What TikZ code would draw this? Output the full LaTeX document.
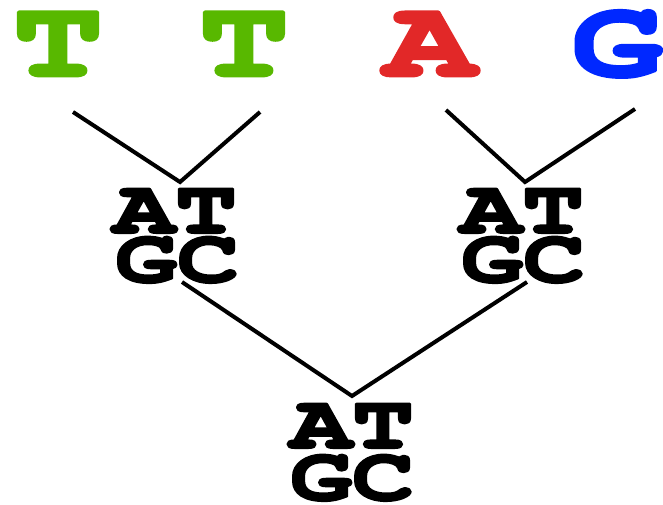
\documentclass[tikz,border=0pt]{standalone}
\usepackage{graphicx}
\usepackage{fontspec}
\newfontfamily\dnafont{texgyrecursor}[Extension=.otf, UprightFont=*-regular, BoldFont=*-bold]
% widen the glyphs and thicken them with an outline stroke
\newcommand\bigglyph[1]{\scalebox{1.38}[1]{\special{pdf:literal direct 2 Tr 2.8 w 1 j}#1\special{pdf:literal direct 0 Tr}}}
\newcommand\smallglyph[1]{\scalebox{1.36}[1]{\special{pdf:literal direct 2 Tr 2.0 w 1 j}#1\special{pdf:literal direct 0 Tr}}}
\definecolor{tgreen}{HTML}{58B800}
\definecolor{ared}{HTML}{E22828}
\definecolor{gblue}{HTML}{0028FF}
\tikzset{
  bigletter/.style={font=\dnafont\bfseries\fontsize{110}{110}\selectfont, inner sep=0pt, anchor=base, text height=65pt, text depth=1pt},
  pairtext/.style={font=\dnafont\bfseries\fontsize{76}{76}\selectfont, inner sep=0pt, anchor=base, text height=44pt, text depth=1pt},
  branch/.style={line width=4pt, line join=miter}
}
\begin{document}
\begin{tikzpicture}[x=1pt,y=-1pt]
\useasboundingbox (0,0) rectangle (663,504);
% leaves
\node[bigletter, text=tgreen] (t1) at (58,76) {\bigglyph{T}};
\node[bigletter, text=tgreen] (t2) at (244,76) {\bigglyph{T}};
\node[bigletter, text=ared] (a) at (430,76) {\bigglyph{A}};
\node[bigletter, text=gblue] (g) at (617,76) {\bigglyph{G}};
% internal nodes
\node[pairtext] (l1) at (175,233) {\smallglyph{AT}};
\node[pairtext] (l2) at (177,282) {\smallglyph{GC}};
\node[pairtext] (r1) at (522,233) {\smallglyph{AT}};
\node[pairtext] (r2) at (523,282) {\smallglyph{GC}};
\node[pairtext] (b1) at (352,448) {\smallglyph{AT}};
\node[pairtext] (b2) at (352,500) {\smallglyph{GC}};
% connector end points
\coordinate (t1e) at (73,112);
\coordinate (t2e) at (260,112);
\coordinate (ae) at (446,110);
\coordinate (ge) at (635,109);
\coordinate (lapex) at (180,182);
\coordinate (rapex) at (525,182);
\coordinate (lstart) at (182,282);
\coordinate (rstart) at (527,282);
\coordinate (bapex) at (352,396);
% connectors
\draw[branch] (t1e) -- (lapex) -- (t2e);
\draw[branch] (ae) -- (rapex) -- (ge);
\draw[branch] (lstart) -- (bapex) -- (rstart);
\end{tikzpicture}
\end{document}
